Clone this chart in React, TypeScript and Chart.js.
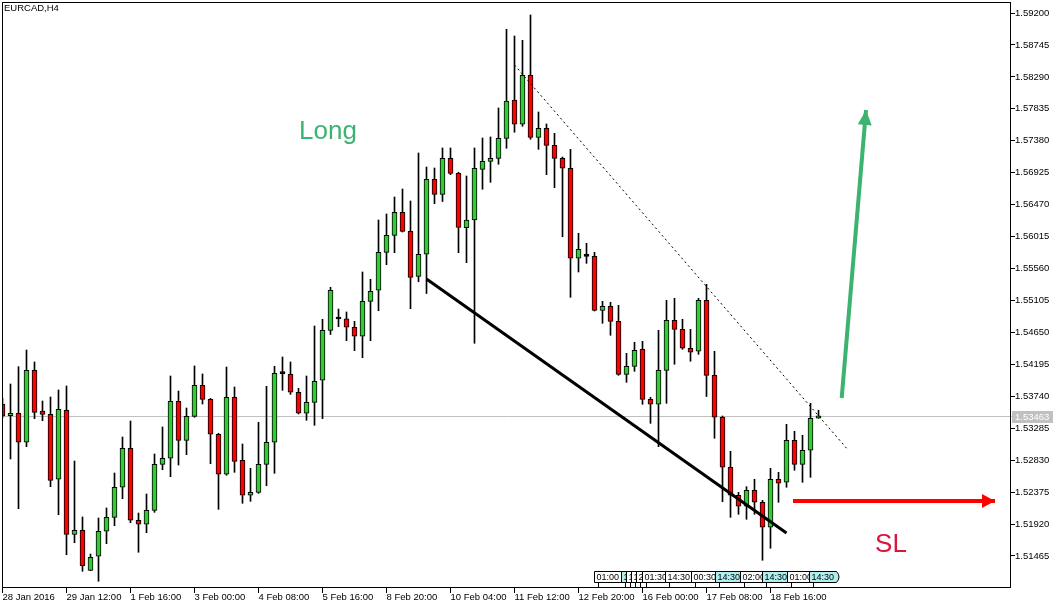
import React, { useEffect, useRef } from "react";
import { Chart, registerables } from "chart.js";

Chart.register(...registerables);

// ---- EURCAD H4 candles ----
const opens = [
  1.53630, 1.53464, 1.53498, 1.53085, 1.54110, 1.53530, 1.53483, 1.52558, 1.53541, 1.51774,
  1.51831, 1.51261, 1.51461, 1.51817, 1.52016, 1.52444, 1.52999, 1.51974, 1.51917, 1.52116,
  1.52771, 1.52857, 1.53669, 1.53113, 1.53455, 1.53897, 1.53697, 1.53199, 1.52629, 1.53726,
  1.52828, 1.52330, 1.52372, 1.52771, 1.53085, 1.54062, 1.54053, 1.53797, 1.53498, 1.53654,
  1.53968, 1.54680, 1.54841, 1.54845, 1.54723, 1.54595, 1.55093, 1.55250, 1.55791, 1.56033,
  1.56361, 1.56090, 1.55449, 1.55763, 1.56832, 1.56617, 1.57130, 1.56917, 1.56142, 1.56251,
  1.56973, 1.57087, 1.57130, 1.57415, 1.57961, 1.57615, 1.58313, 1.57429, 1.57558, 1.57315,
  1.57130, 1.56988, 1.55706, 1.55734, 1.55734, 1.54965, 1.55022, 1.54808, 1.54053, 1.54167,
  1.54409, 1.53697, 1.53626, 1.54110, 1.54823, 1.54694, 1.54424, 1.54381, 1.55107, 1.54039,
  1.53441, 1.52729, 1.52330, 1.52173, 1.52401, 1.52230, 1.51874, 1.52558, 1.52515, 1.53113,
  1.52771, 1.52971, 1.53427,
];
const highs = [
  1.53716, 1.53915, 1.54162, 1.54399, 1.54229, 1.53673, 1.53730, 1.53830, 1.53887, 1.52818,
  1.52021, 1.51493, 1.52006, 1.52149, 1.52647, 1.53160, 1.53388, 1.52077, 1.52348, 1.52918,
  1.53303, 1.54029, 1.53815, 1.53573, 1.54172, 1.54058, 1.53710, 1.53213, 1.54157, 1.53872,
  1.53060, 1.52714, 1.53369, 1.53882, 1.54167, 1.54300, 1.54229, 1.53854, 1.54029, 1.54741,
  1.54837, 1.55293, 1.54983, 1.54941, 1.54808, 1.55511, 1.55407, 1.56251, 1.56337, 1.56579,
  1.56693, 1.56522, 1.57206, 1.57006, 1.56992, 1.57277, 1.57277, 1.56931, 1.56878, 1.57277,
  1.57419, 1.57434, 1.57847, 1.58968, 1.58872, 1.58811, 1.59172, 1.57790, 1.57619, 1.57486,
  1.57149, 1.57258, 1.56062, 1.55919, 1.55791, 1.55093, 1.55079, 1.55036, 1.54352, 1.54509,
  1.54523, 1.53726, 1.54680, 1.55107, 1.55136, 1.54837, 1.54694, 1.55136, 1.55335, 1.54381,
  1.53459, 1.52956, 1.52372, 1.52452, 1.52558, 1.52258, 1.52714, 1.52657, 1.53341, 1.53241,
  1.53184, 1.53640, 1.53541,
];
const lows = [
  1.53431, 1.52847, 1.52139, 1.53022, 1.53421, 1.53392, 1.52452, 1.52053, 1.51483, 1.51654,
  1.51247, 1.51255, 1.51105, 1.51640, 1.51897, 1.52281, 1.51939, 1.51518, 1.51797, 1.52087,
  1.52694, 1.52595, 1.52761, 1.52908, 1.53441, 1.53630, 1.52780, 1.52130, 1.52615, 1.52657,
  1.52216, 1.52244, 1.52358, 1.52466, 1.52643, 1.53825, 1.53768, 1.53488, 1.53398, 1.53327,
  1.53421, 1.54620, 1.54731, 1.54532, 1.54390, 1.54290, 1.54532, 1.54959, 1.55615, 1.55786,
  1.56080, 1.54988, 1.55372, 1.55204, 1.56483, 1.56515, 1.56897, 1.55786, 1.55643, 1.54495,
  1.56689, 1.56788, 1.57045, 1.57273, 1.57501, 1.57586, 1.57401, 1.57258, 1.56897, 1.56711,
  1.56013, 1.55150, 1.55511, 1.55634, 1.54955, 1.54780, 1.54609, 1.54039, 1.53939, 1.54096,
  1.53626, 1.53355, 1.53022, 1.53640, 1.54196, 1.54409, 1.54239, 1.54338, 1.53737, 1.53142,
  1.52238, 1.52016, 1.52059, 1.51988, 1.52059, 1.51404, 1.51575, 1.52230, 1.52444, 1.52686,
  1.52515, 1.52586, 1.53427,
];
const closes = [
  1.53459, 1.53498, 1.53085, 1.54110, 1.53512, 1.53483, 1.52543, 1.53555, 1.51774, 1.51831,
  1.51327, 1.51446, 1.51817, 1.52016, 1.52444, 1.52999, 1.51974, 1.51917, 1.52116, 1.52771,
  1.52857, 1.53669, 1.53113, 1.53455, 1.53897, 1.53697, 1.53199, 1.52629, 1.53726, 1.52814,
  1.52330, 1.52372, 1.52771, 1.53085, 1.54068, 1.54062, 1.53797, 1.53498, 1.53654, 1.53954,
  1.54680, 1.55250, 1.54841, 1.54723, 1.54595, 1.55093, 1.55236, 1.55791, 1.56033, 1.56361,
  1.56090, 1.55435, 1.55763, 1.56832, 1.56617, 1.57130, 1.56914, 1.56144, 1.56251, 1.56988,
  1.57087, 1.57130, 1.57415, 1.57946, 1.57615, 1.58313, 1.57429, 1.57558, 1.57315, 1.57130,
  1.56988, 1.55706, 1.55834, 1.55734, 1.54965, 1.55022, 1.54808, 1.54053, 1.54167, 1.54395,
  1.53697, 1.53626, 1.54110, 1.54823, 1.54694, 1.54424, 1.54367, 1.55107, 1.54039, 1.53441,
  1.52729, 1.52330, 1.52173, 1.52401, 1.52230, 1.51874, 1.52558, 1.52501, 1.53113, 1.52771,
  1.52971, 1.53427, 1.53463,
];

const xTickIndex = [0, 8, 16, 24, 32, 40, 48, 56, 64, 72, 80, 88, 96];
const xTickLabels = [
  "28 Jan 2016", "29 Jan 12:00", "1 Feb 16:00", "3 Feb 00:00", "4 Feb 08:00", "5 Feb 16:00",
  "8 Feb 20:00", "10 Feb 04:00", "11 Feb 12:00", "12 Feb 20:00", "16 Feb 00:00",
  "17 Feb 08:00", "18 Feb 16:00",
];
const yTicks = [
  1.51465, 1.5192, 1.52375, 1.5283, 1.53285, 1.5374, 1.54195, 1.5465, 1.55105, 1.5556,
  1.56015, 1.5647, 1.56925, 1.5738, 1.57835, 1.5829, 1.58745, 1.592,
];
const lastPrice = 1.53463;

// drawn objects (candle index, price)
const supportLine = [{ x: 53, y: 1.55411 }, { x: 98, y: 1.51793 }];
const resistanceLine = [{ x: 64, y: 1.58459 }, { x: 105.7, y: 1.52975 }];
const longArrow = [{ x: 104.9, y: 1.53716 }, { x: 107.94, y: 1.57818 }];
const slArrow = [{ x: 98.81, y: 1.52248 }, { x: 124.06, y: 1.52248 }];
const longLabel = { x: 40.69, y: 1.57505, text: "Long" };
const slLabel = { x: 111.06, y: 1.51622, text: "SL" };

// calendar event markers
const eventIndex = [73.94, 77.31, 77.94, 78.56, 79.19, 79.94, 82.81, 86.06, 89.06, 92.19, 94.94, 98.06, 100.81];
const eventLabels = ["01:00", "14:30", "15:00", "16:00", "22:00", "01:30", "14:30", "00:30", "14:30", "02:00", "14:30", "01:00", "14:30"];
const eventHighlighted = [false, true, false, false, false, false, false, false, true, false, true, false, true];

const candleIndex = opens.map((_, i) => i);
const bodyColors = candleIndex.map((i) =>
  closes[i] > opens[i] ? "#32cd32" : closes[i] < opens[i] ? "#ff0000" : "#000000"
);

const FONT = "'Liberation Sans', Arial, sans-serif";

function arrowHead(ctx: CanvasRenderingContext2D, x0: number, y0: number, x1: number, y1: number, len: number, hw: number, color: string) {
  const a = Math.atan2(y1 - y0, x1 - x0);
  const c = Math.cos(a), s = Math.sin(a);
  ctx.fillStyle = color;
  ctx.beginPath();
  ctx.moveTo(x1, y1);
  ctx.lineTo(x1 - len * c + hw * s, y1 - len * s - hw * c);
  ctx.lineTo(x1 - len * c - hw * s, y1 - len * s + hw * c);
  ctx.closePath();
  ctx.fill();
}

const overlayPlugin = {
  id: "overlay",
  beforeDatasetsDraw(chart: any) {
    const { ctx, chartArea, scales } = chart;
    const py = Math.round(scales.y.getPixelForValue(lastPrice)) + 0.5;
    ctx.save();
    ctx.strokeStyle = "#c0c0c0";
    ctx.lineWidth = 1;
    ctx.beginPath();
    ctx.moveTo(chartArea.left, py);
    ctx.lineTo(chartArea.right + 2, py);
    ctx.stroke();
    ctx.restore();
  },
  afterDatasetsDraw(chart: any) {
    const { ctx, chartArea, scales } = chart;
    const { left, right, top, bottom } = chartArea;
    const xs = scales.x, ys = scales.y;
    ctx.save();

    // arrow heads
    const la = chart.getDatasetMeta(4).data;
    if (la.length === 2) arrowHead(ctx, la[0].x, la[0].y, la[1].x, la[1].y, 15, 7, "#3cb371");
    const sa = chart.getDatasetMeta(5).data;
    if (sa.length === 2) arrowHead(ctx, sa[0].x, sa[0].y, sa[1].x, sa[1].y, 13, 7, "#ff0000");

    // labels
    ctx.font = `26px ${FONT}`;
    ctx.textAlign = "center";
    ctx.textBaseline = "middle";
    ctx.fillStyle = "#3cb371";
    ctx.fillText(longLabel.text, xs.getPixelForValue(longLabel.x), ys.getPixelForValue(longLabel.y));
    ctx.fillStyle = "#dc143c";
    ctx.fillText(slLabel.text, xs.getPixelForValue(slLabel.x), ys.getPixelForValue(slLabel.y));

    // event markers
    ctx.font = `9px ${FONT}`;
    ctx.textAlign = "left";
    ctx.textBaseline = "middle";
    const bTop = bottom - 16.5, bH = 11, bW = 27;
    eventIndex.forEach((ev, i) => {
      const px = Math.round(xs.getPixelForValue(ev)) + 0.5;
      ctx.beginPath();
      ctx.moveTo(px, bTop);
      ctx.lineTo(px + bW, bTop);
      ctx.quadraticCurveTo(px + bW + 5, bTop + bH / 2, px + bW, bTop + bH);
      ctx.lineTo(px, bTop + bH);
      ctx.closePath();
      ctx.fillStyle = eventHighlighted[i] ? "#afeeee" : "#ffffff";
      ctx.fill();
      ctx.strokeStyle = "#000";
      ctx.lineWidth = 1;
      ctx.stroke();
      ctx.fillStyle = "#000";
      ctx.fillText(eventLabels[i], px + 2, bTop + bH / 2 + 0.5);
      ctx.beginPath();
      ctx.moveTo(px + 4, bTop + bH);
      ctx.lineTo(px + 4, bottom);
      ctx.stroke();
    });

    // frame
    ctx.strokeStyle = "#000";
    ctx.lineWidth = 1;
    ctx.strokeRect(left + 0.5, top + 0.5, right - left - 1, bottom - top - 1);

    // current price label
    const py = Math.round(ys.getPixelForValue(lastPrice));
    ctx.fillStyle = "#c0c0c0";
    ctx.fillRect(right + 1, py - 5, 41, 12);
    ctx.fillStyle = "#ffffff";
    ctx.font = `9.5px ${FONT}`;
    ctx.textBaseline = "middle";
    ctx.fillText(lastPrice.toFixed(5), right + 4, py + 1);

    // symbol title
    ctx.fillStyle = "#000";
    ctx.font = `9.5px ${FONT}`;
    ctx.textBaseline = "top";
    ctx.fillText("EURCAD,H4", left + 2, top + 2);
    ctx.restore();
  },
};

export default function App() {
  const ref = useRef<HTMLCanvasElement>(null);
  useEffect(() => {
    const canvas = ref.current!;
    const chart = new Chart(canvas, {
      type: "bar",
      data: {
        datasets: [
          {
            type: "bar",
            label: "wick",
            data: candleIndex.map((i) => ({ x: i, y: [lows[i], highs[i]] })) as any,
            backgroundColor: "#000000",
            borderWidth: 0,
            barThickness: 1,
            grouped: false,
            order: 3,
          } as any,
          {
            type: "bar",
            label: "body",
            data: candleIndex.map((i) => ({ x: i, y: [opens[i], closes[i]] })) as any,
            backgroundColor: bodyColors,
            borderColor: "#000000",
            borderWidth: 1,
            borderSkipped: false,
            barThickness: 5,
            minBarLength: 2,
            grouped: false,
            order: 2,
          } as any,
          {
            type: "line",
            label: "support",
            data: supportLine as any,
            borderColor: "#000000",
            borderWidth: 3,
            pointRadius: 0,
            fill: false,
            order: 1,
          } as any,
          {
            type: "line",
            label: "resistance",
            data: resistanceLine as any,
            borderColor: "#000000",
            borderWidth: 1,
            borderDash: [2, 3],
            pointRadius: 0,
            fill: false,
            order: 1,
          } as any,
          {
            type: "line",
            label: "long",
            data: longArrow as any,
            borderColor: "#3cb371",
            borderWidth: 4,
            pointRadius: 0,
            fill: false,
            order: 0,
          } as any,
          {
            type: "line",
            label: "sl",
            data: slArrow as any,
            borderColor: "#ff0000",
            borderWidth: 4,
            pointRadius: 0,
            fill: false,
            order: 0,
          } as any,
        ],
      },
      options: {
        responsive: false,
        animation: false,
        devicePixelRatio: 1,
        layout: { padding: { left: 2, top: 2, right: 0, bottom: 0 } },
        plugins: { legend: { display: false }, tooltip: { enabled: false } },
        font: { family: FONT, size: 9.5 } as any,
        scales: {
          x: {
            type: "linear",
            min: -0.0625,
            max: 126.0625,
            offset: false,
            border: { display: false },
            grid: { display: true, drawOnChartArea: false, drawTicks: true, tickLength: 5, color: "#000", offset: false },
            ticks: {
              autoSkip: false,
              maxRotation: 0,
              align: "start",
              padding: -1,
              color: "#000",
              font: { family: FONT, size: 9.5 },
              callback: (v: any) => {
                const i = xTickIndex.indexOf(Number(v));
                return i >= 0 ? xTickLabels[i] : "";
              },
            },
            afterBuildTicks: (s: any) => {
              s.ticks = xTickIndex.map((v) => ({ value: v }));
            },
            afterFit: (s: any) => {
              s.height = 20;
              s.paddingLeft = 0;
              s.paddingRight = 0;
            },
          } as any,
          y: {
            type: "linear",
            position: "right",
            min: 1.510091,
            max: 1.593567,
            border: { display: false },
            grid: { display: true, drawOnChartArea: false, drawTicks: true, tickLength: 4, color: "#000" },
            ticks: {
              autoSkip: false,
              padding: 0,
              color: "#000",
              font: { family: FONT, size: 9.5 },
              callback: (v: any) => Number(v).toFixed(5),
            },
            afterBuildTicks: (s: any) => {
              s.ticks = yTicks.map((v) => ({ value: v }));
            },
            afterFit: (s: any) => {
              s.width = 52;
              s.paddingTop = 0;
              s.paddingBottom = 0;
            },
          } as any,
        },
      },
      plugins: [overlayPlugin],
    });
    return () => chart.destroy();
  }, []);
  return (
    <div style={{ position: "fixed", left: 0, top: 0, width: 1063, height: 608, background: "#fff" }}>
      <canvas ref={ref} width={1063} height={608} style={{ display: "block", width: 1063, height: 608 }} />
    </div>
  );
}
